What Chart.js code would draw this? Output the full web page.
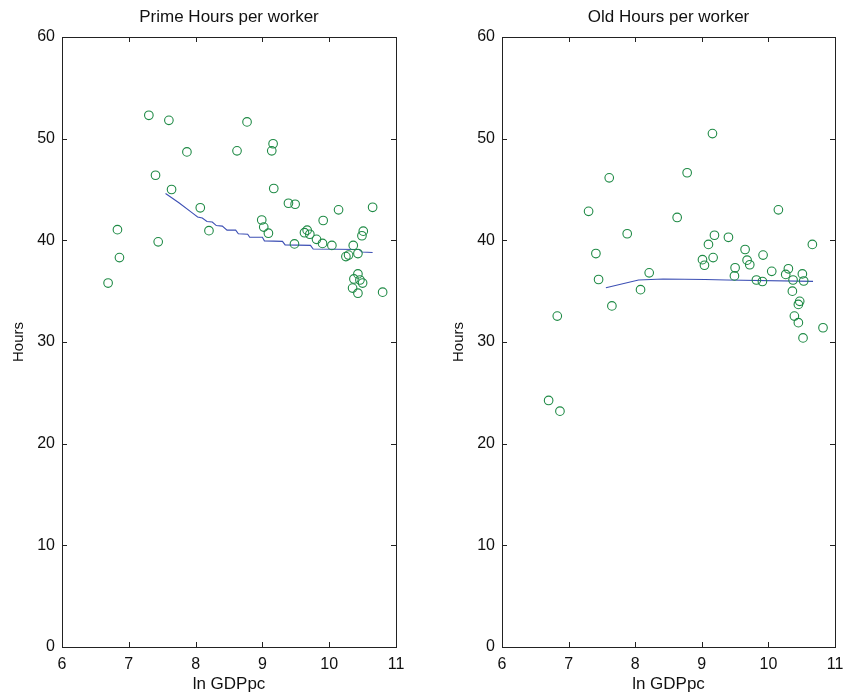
<!DOCTYPE html>
<html>
<head>
<meta charset="utf-8">
<script src="https://cdn.jsdelivr.net/npm/chart.js@4.4.1/dist/chart.umd.min.js"></script>
<style>
  html, body { margin: 0; padding: 0; background: #fff; }
  #wrap { position: relative; width: 847px; height: 696px; overflow: hidden; }
  canvas { position: absolute; top: 0; }
  #c1 { left: 0; }
  #c2 { left: 440px; }
</style>
</head>
<body>
<div id="wrap">
  <canvas id="c1" width="423" height="696"></canvas>
  <canvas id="c2" width="407" height="696"></canvas>
</div>
<script>
// Prime-age workers: ln GDP per capita vs. hours per worker
const primeX = [7.30, 7.60, 8.77, 9.16, 9.14, 7.87, 8.62, 7.40, 7.64, 9.17, 9.39, 9.49, 10.65, 10.14, 8.07,
  9.91, 8.99, 9.02, 9.09, 8.20, 6.83, 9.63, 9.67, 9.71, 9.81, 9.90, 10.04, 9.48, 10.51, 10.49,
  10.36, 10.43, 10.29, 10.25, 7.44, 6.86, 6.69, 10.43, 10.37, 10.46, 10.50, 10.35, 10.43, 10.80];
const primeY = [52.3, 51.8, 51.65, 49.5, 48.8, 48.7, 48.8, 46.4, 45.0, 45.1, 43.65, 43.55, 43.25, 43.0, 43.2,
  41.95, 42.0, 41.3, 40.7, 40.95, 41.05, 40.75, 41.0, 40.6, 40.1, 39.7, 39.5, 39.65, 40.9, 40.45,
  39.5, 38.7, 38.55, 38.4, 39.85, 38.3, 35.8, 36.7, 36.2, 36.1, 35.8, 35.3, 34.8, 34.9];
// Smoothed fit (stepped)
const primeFitX = [7.55, 7.75, 7.95, 8.03, 8.10, 8.17, 8.25, 8.31, 8.40, 8.47, 8.60, 8.64, 8.78, 8.81,
  9.00, 9.03, 9.30, 9.34, 9.72, 9.76, 10.45, 10.49, 10.65];
const primeFitY = [44.6, 43.7, 42.7, 42.3, 42.2, 41.85, 41.8, 41.45, 41.4, 41.0, 41.0, 40.65, 40.6, 40.3,
  40.3, 39.95, 39.9, 39.55, 39.5, 39.15, 39.1, 38.85, 38.8];

// Older workers
const oldX = [9.16, 8.78, 7.61, 7.30, 10.15, 8.63, 7.88, 9.19, 9.40, 9.10, 10.66, 9.65, 7.41, 9.01, 9.17,
  9.04, 9.92, 9.68, 9.72, 9.50, 9.49, 10.05, 10.30, 10.26, 10.51, 8.21, 7.45, 9.82, 9.91, 10.37,
  10.53, 8.08, 10.36, 10.47, 10.45, 7.65, 10.39, 6.83, 10.45, 10.82, 10.52, 6.70, 6.87];
const oldY = [50.5, 46.65, 46.15, 42.85, 43.0, 42.25, 40.65, 40.5, 40.3, 39.6, 39.6, 39.1, 38.7, 38.1, 38.3,
  37.55, 38.55, 38.05, 37.6, 37.3, 36.5, 36.95, 37.2, 36.65, 36.7, 36.8, 36.15, 36.1, 35.95, 36.1,
  36.0, 35.15, 35.0, 34.0, 33.7, 33.55, 32.55, 32.55, 31.9, 31.4, 30.4, 24.25, 23.2];
const oldFitX = [7.56, 8.05, 8.42, 9.05, 9.37, 10.67];
const oldFitY = [35.33, 36.1, 36.2, 36.15, 36.1, 35.96];

const xTicks = [6, 7, 8, 9, 10, 11];
const yTicks = [0, 10, 20, 30, 40, 50, 60];
const titles = ['Prime Hours per worker', 'Old Hours per worker'];
const xLabel = 'ln GDPpc';
const yLabel = 'Hours';

const FONT = 'Liberation Sans, Arial, Helvetica, sans-serif';
const AXIS = '#222';
const GREEN = '#1e8a45';
const BLUE = '#3c4fb4';

const zip = (xs, ys) => xs.map((x, i) => ({ x, y: ys[i] }));

// Box around the plot, inward ticks on all four sides, and the panel title
const framePlugin = {
  id: 'frame',
  afterDraw(chart, args, opts) {
    const { ctx, chartArea: a, scales } = chart;
    ctx.save();
    ctx.strokeStyle = AXIS;
    ctx.lineWidth = 1;
    ctx.strokeRect(Math.round(a.left) + 0.5, Math.round(a.top) + 0.5,
      Math.round(a.right - a.left), Math.round(a.bottom - a.top));
    const len = 5;
    ctx.beginPath();
    xTicks.forEach(v => {
      const px = Math.round(scales.x.getPixelForValue(v)) + 0.5;
      ctx.moveTo(px, a.bottom); ctx.lineTo(px, a.bottom - len);
      ctx.moveTo(px, a.top); ctx.lineTo(px, a.top + len);
    });
    yTicks.forEach(v => {
      const py = Math.round(scales.y.getPixelForValue(v)) + 0.5;
      ctx.moveTo(a.left, py); ctx.lineTo(a.left + len, py);
      ctx.moveTo(a.right, py); ctx.lineTo(a.right - len, py);
    });
    ctx.stroke();
    ctx.fillStyle = '#111';
    ctx.font = '17px ' + FONT;
    ctx.textAlign = 'center';
    ctx.textBaseline = 'middle';
    ctx.fillText(opts.text, (a.left + a.right) / 2, 17);
    ctx.restore();
  }
};

function makeChart(id, title, ptsX, ptsY, fitX, fitY, padRight) {
  return new Chart(document.getElementById(id), {
    type: 'scatter',
    data: {
      datasets: [
        {
          data: zip(ptsX, ptsY),
          showLine: false,
          pointStyle: 'circle',
          pointRadius: 4.3,
          pointHoverRadius: 4.3,
          pointBorderWidth: 1.1,
          pointBorderColor: GREEN,
          pointBackgroundColor: 'rgba(0,0,0,0)'
        },
        {
          data: zip(fitX, fitY),
          showLine: true,
          borderColor: BLUE,
          borderWidth: 1.1,
          pointRadius: 0,
          tension: 0
        }
      ]
    },
    options: {
      responsive: false,
      animation: false,
      events: [],
      layout: { padding: { top: 37, right: padRight, left: 0, bottom: 0 } },
      plugins: {
        legend: { display: false },
        tooltip: { enabled: false },
        frame: { text: title }
      },
      scales: {
        x: {
          type: 'linear',
          min: 6, max: 11,
          afterBuildTicks: s => { s.ticks = xTicks.map(v => ({ value: v })); },
          afterFit: s => { s.height = 49; s.paddingLeft = 0; s.paddingRight = 0; },
          grid: { display: false, drawTicks: false },
          border: { display: false },
          ticks: { color: '#111', font: { family: FONT, size: 16 }, padding: 8, maxRotation: 0 },
          title: { display: true, text: xLabel, color: '#111', font: { family: FONT, size: 17 }, padding: { top: 0, bottom: 1 } }
        },
        y: {
          type: 'linear',
          min: 0, max: 60,
          afterBuildTicks: s => { s.ticks = yTicks.map(v => ({ value: v })); },
          afterFit: s => { s.width = 62; s.paddingTop = 0; s.paddingBottom = 0; },
          grid: { display: false, drawTicks: false },
          border: { display: false },
          ticks: { color: '#111', font: { family: FONT, size: 16 }, padding: 7 },
          title: { display: true, text: yLabel, color: '#111', font: { family: FONT, size: 15 }, padding: { top: 10, bottom: 0 } }
        }
      }
    },
    plugins: [framePlugin]
  });
}

makeChart('c1', titles[0], primeX, primeY, primeFitX, primeFitY, 27);
makeChart('c2', titles[1], oldX, oldY, oldFitX, oldFitY, 12);
</script>
</body>
</html>
